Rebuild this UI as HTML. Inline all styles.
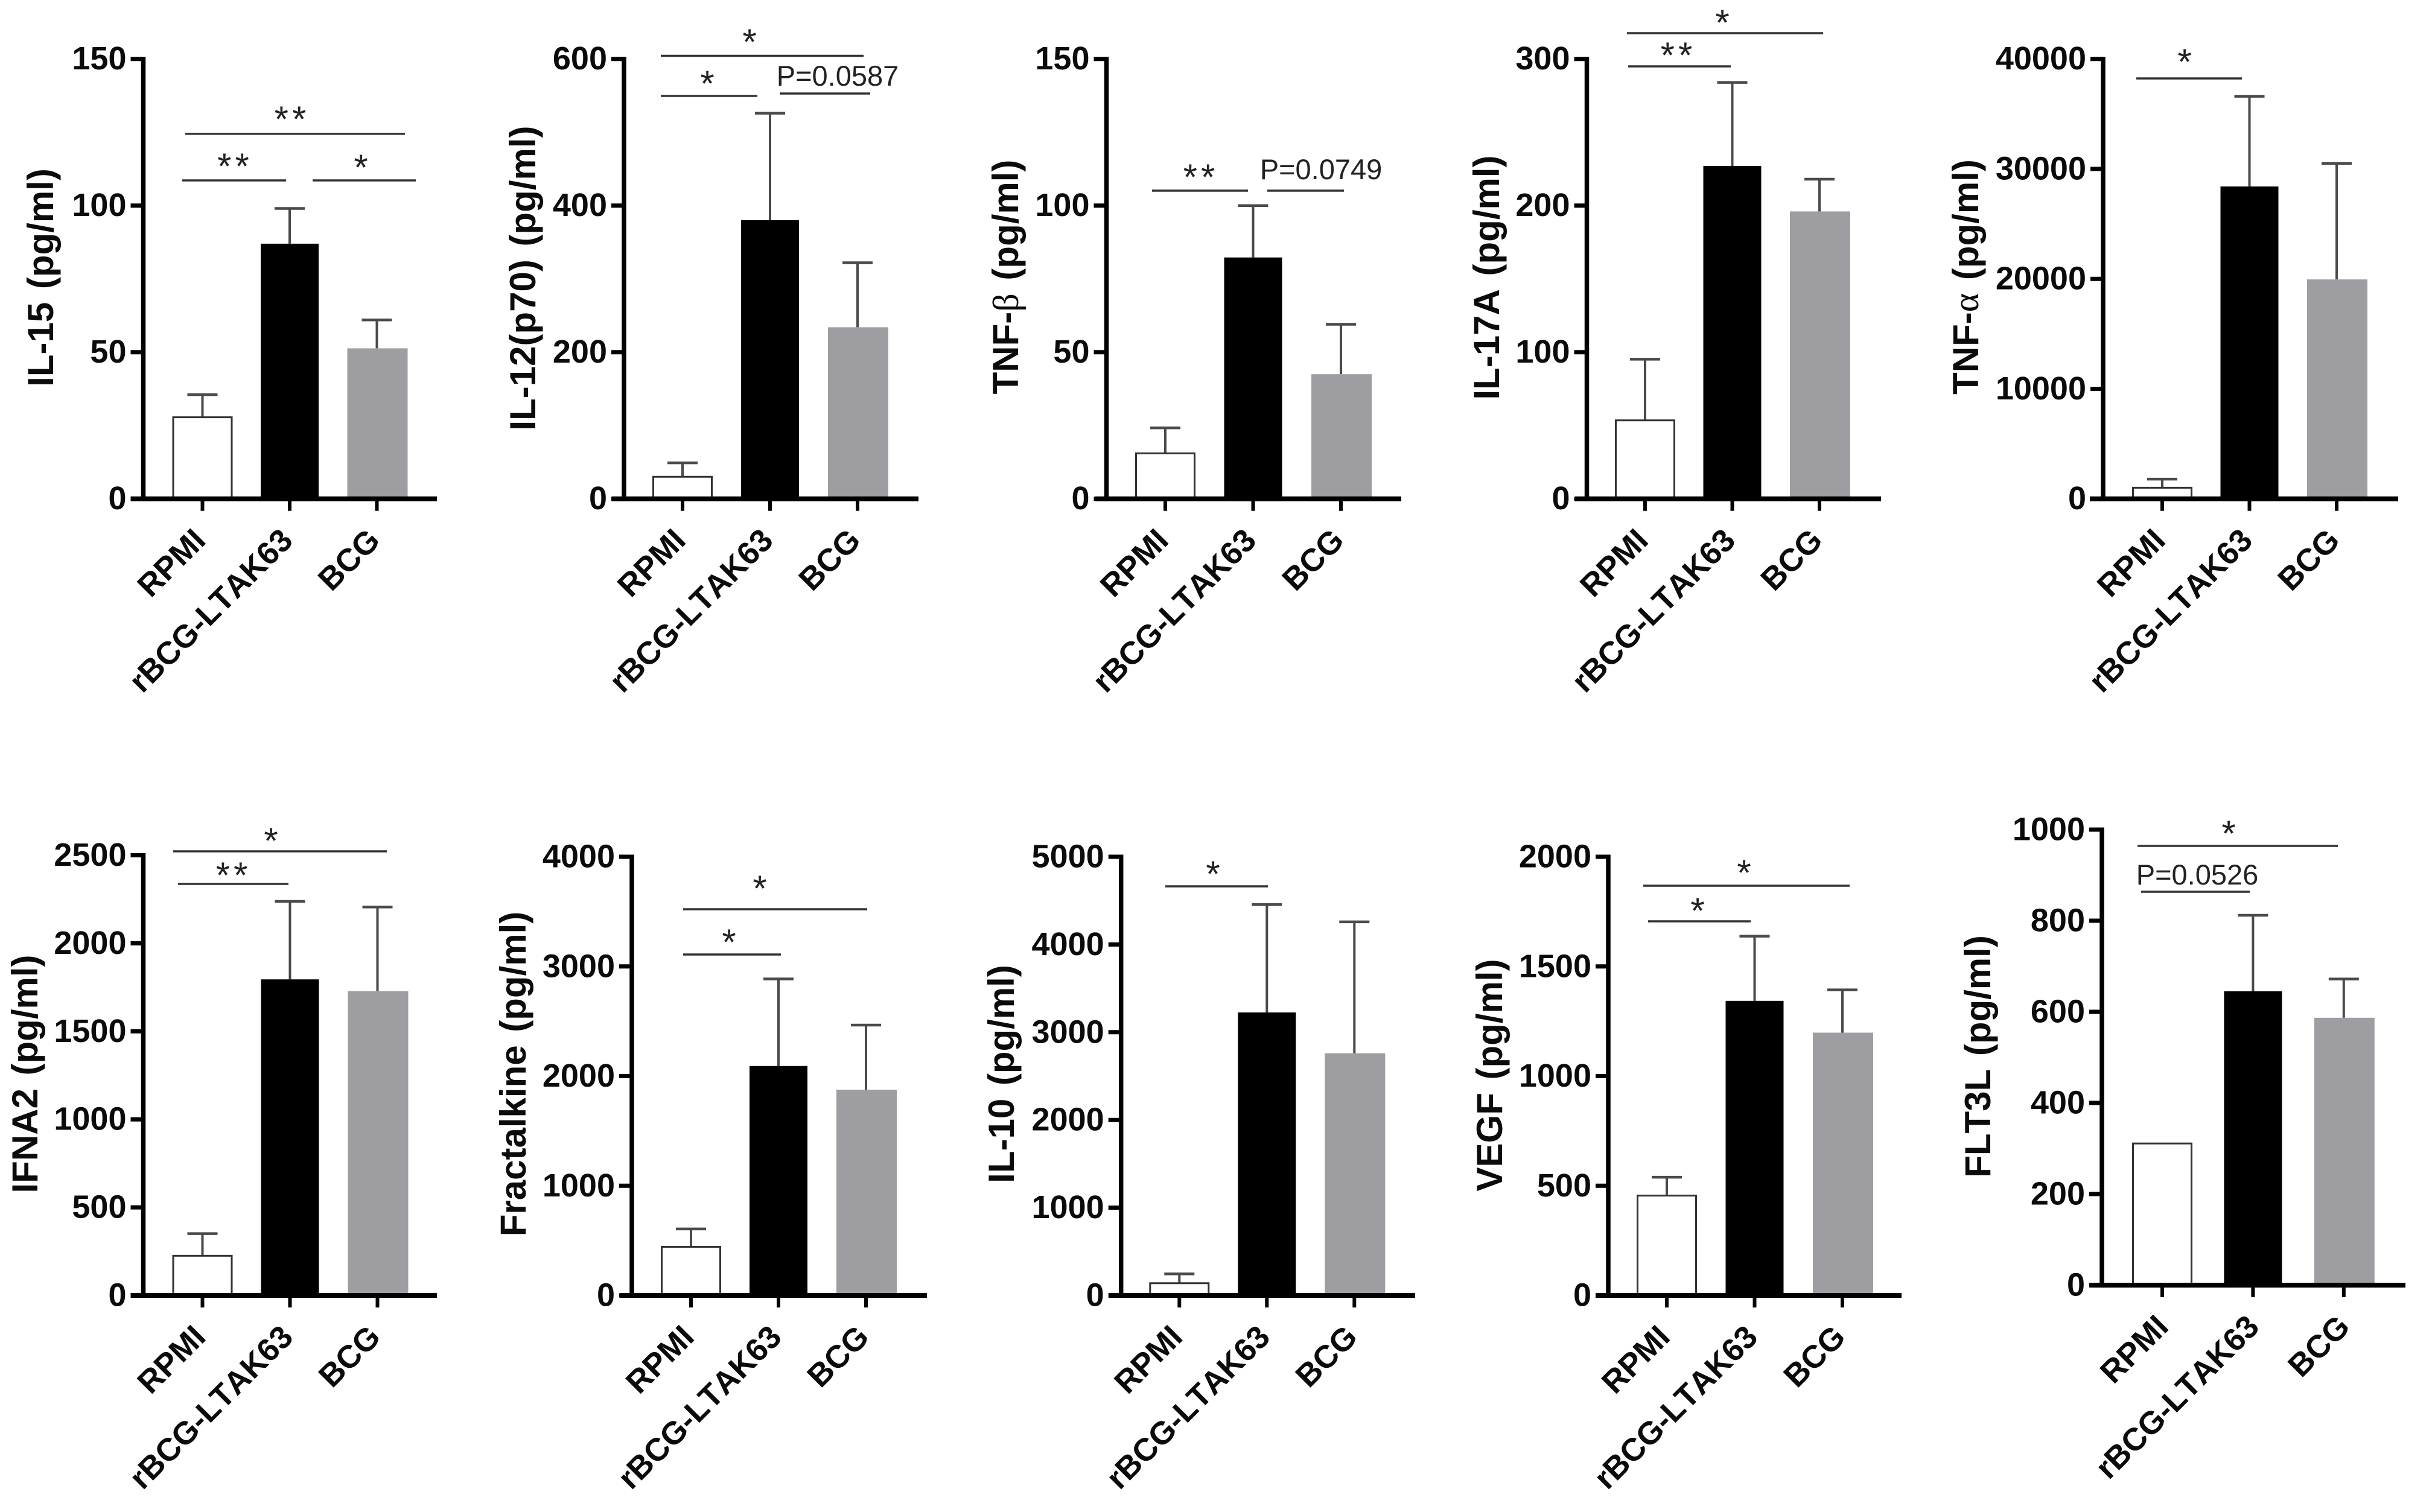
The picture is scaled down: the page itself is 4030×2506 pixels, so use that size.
<!DOCTYPE html>
<html lang="en">
<head>
<meta charset="utf-8">
<title>Cytokine levels by stimulation group</title>
<style>
html,body{margin:0;padding:0;background:#fff;}
svg{display:block;}
text{font-family:"Liberation Sans",Arial,sans-serif;fill:#0b0b0b;}
.tick-label{font-weight:700;font-size:54px;text-anchor:end;}
.cat-label{font-weight:700;font-size:53px;text-anchor:end;font-kerning:none;}
.y-title{font-weight:700;font-size:60px;text-anchor:middle;word-spacing:5px;font-kerning:none;}
.greek{font-family:"Liberation Serif",serif;font-weight:400;}
.star{font-size:60px;text-anchor:middle;fill:#222;letter-spacing:6px;}
.pval{font-size:47px;text-anchor:middle;fill:#222;}
</style>
</head>
<body>
<svg id="chart" xmlns="http://www.w3.org/2000/svg" width="4030" height="2506" viewBox="0 0 4030 2506">
<rect x="0" y="0" width="4030" height="2506" fill="#fff"/>
</svg>
<script>
// ---- Data ----
const categories = ['RPMI', 'rBCG-LTAK63', 'BCG'];

const il15Ticks = [0, 50, 100, 150];
const il15Means = [27.8, 87, 51.3];
const il15Upper = [35.5, 99, 61];

const il12Ticks = [0, 200, 400, 600];
const il12Means = [30, 380, 234];
const il12Upper = [49, 526, 322];

const tnfBetaTicks = [0, 50, 100, 150];
const tnfBetaMeans = [15.5, 82.3, 42.5];
const tnfBetaUpper = [24.2, 100, 59.5];

const il17aTicks = [0, 100, 200, 300];
const il17aMeans = [53.5, 227, 196];
const il17aUpper = [95.2, 284, 218];

const tnfAlphaTicks = [0, 10000, 20000, 30000, 40000];
const tnfAlphaMeans = [1005, 28400, 19950];
const tnfAlphaUpper = [1790, 36600, 30500];

const ifna2Ticks = [0, 500, 1000, 1500, 2000, 2500];
const ifna2Means = [225, 1795, 1728];
const ifna2Upper = [351, 2238, 2206];

const fractalkineTicks = [0, 1000, 2000, 3000, 4000];
const fractalkineMeans = [443, 2092, 1876];
const fractalkineUpper = [606, 2886, 2465];

const il10Ticks = [0, 1000, 2000, 3000, 4000, 5000];
const il10Means = [139, 3225, 2760];
const il10Upper = [245, 4455, 4258];

const vegfTicks = [0, 500, 1000, 1500, 2000];
const vegfMeans = [455, 1343, 1198];
const vegfUpper = [539, 1638, 1393];

const flt3lTicks = [0, 200, 400, 600, 800, 1000];
const flt3lMeans = [311, 645, 587];
const flt3lUpper = [311, 812, 672];

// ---- Drawing ----
const NS = 'http://www.w3.org/2000/svg';
const root = document.getElementById('chart');
const barWidths = [97, 96, 100];
const barFills = ['#ffffff', '#000000', '#9e9ea2'];

function make(tag, attrs, parent, text) {
  const node = document.createElementNS(NS, tag);
  for (const key in attrs) node.setAttribute(key, attrs[key]);
  if (text !== undefined) node.textContent = text;
  parent.appendChild(node);
  return node;
}

function drawPanel(slug, titleParts, ticks, means, upper, frame, brackets) {
  const yScale = v => frame.yBottom - (v / ticks[ticks.length - 1]) * (frame.yBottom - frame.yTop);
  const xScale = i => frame.x0 + i * frame.step;

  const g = make('g', {}, root);
  
  

  // bars
  categories.forEach((cat, i) => {
    const w = barWidths[i];
    const isWhite = i === 0;
    const top = yScale(means[i]);
    const hi = yScale(upper[i]);
    if (upper[i] > means[i]) {
      const stem = make('line', {x1: xScale(i), x2: xScale(i), y1: top, y2: hi, stroke: '#4a4a4a', 'stroke-width': 4}, g);
      
      
      const cap = make('line', {x1: xScale(i) - 25, x2: xScale(i) + 25, y1: hi, y2: hi, stroke: '#4a4a4a', 'stroke-width': 4.5}, g);
      
      
    }
    const bar = make('rect', {
      x: xScale(i) - w / 2 + (i === 2 ? 1 : 0), y: top, width: w, height: frame.yBottom - top,
      fill: barFills[i],
      stroke: isWhite ? '#333' : 'none',
      'stroke-width': isWhite ? 3 : 0
    }, g);
    
    
  });

  // axes
  const yAxis = make('line', {x1: frame.axisX, x2: frame.axisX, y1: frame.yTop - 3.5, y2: frame.yBottom + 3, stroke: '#000', 'stroke-width': 7.5}, g);
  
  
  const xAxis = make('line', {x1: frame.axisStart, x2: frame.axisEnd, y1: frame.yBottom, y2: frame.yBottom, stroke: '#000', 'stroke-width': 8}, g);
  
  

  // y ticks
  ticks.forEach(t => {
    const mark = make('line', {x1: frame.axisX - 21, x2: frame.axisX, y1: yScale(t), y2: yScale(t), stroke: '#000', 'stroke-width': 7}, g);
    
    
    const label = make('text', {x: frame.axisX - 28, y: yScale(t) + 17.5, class: 'tick-label'}, g, String(t));
    
    
  });

  // x ticks + category labels
  categories.forEach((cat, i) => {
    const mark = make('line', {x1: xScale(i), x2: xScale(i), y1: frame.yBottom, y2: frame.yBottom + 20, stroke: '#000', 'stroke-width': 6}, g);
    
    
    const ax = xScale(i) + frame.labelDx;
    const ay = frame.yBottom + 72;
    const label = make('text', {x: ax, y: ay, class: 'cat-label', transform: 'rotate(-45 ' + ax + ' ' + ay + ')'}, g, cat);
    
    
  });

  // y-axis title
  const title = make('text', {x: frame.titleX, y: frame.titleY, class: 'y-title', transform: 'rotate(-90 ' + frame.titleX + ' ' + frame.titleY + ')'}, g);
  
  
  titleParts.forEach(part => {
    const span = make('tspan', part.greek ? {class: 'greek'} : {}, title, part.text);
    
    
  });

  // significance brackets: [x1, x2, lineY, label, labelCenterX, labelCenterY] in page pixels
  brackets.forEach((b, n) => {
    const rule = make('line', {x1: b[0], x2: b[1], y1: b[2], y2: b[2], stroke: '#333', 'stroke-width': 3.5}, g);
    
    
    const isStar = b[3].charAt(0) === '*';
    const note = make('text', {x: b[4] + (isStar ? 3 : 0), y: b[5] + (isStar ? 29 : 16), class: isStar ? 'star' : 'pval'}, g, b[3]);
    
    
  });
}

drawPanel('il-15', [{text: 'IL-15 (pg/ml)'}], il15Ticks, il15Means, il15Upper,
  {x0: 335.5, step: 144.5, axisX: 237.5, axisStart: 216.5, axisEnd: 724, yTop: 97.7, yBottom: 826.7, titleX: 88, titleY: 460, labelDx: 8},
  [[307, 671, 221.7, '**', 481, 189], [302, 474, 299, '**', 386.5, 267], [518, 689, 299, '*', 598, 269]]);

drawPanel('il-12', [{text: 'IL-12(p70) (pg/ml)'}], il12Ticks, il12Means, il12Upper,
  {x0: 1131, step: 145, axisX: 1034, axisStart: 1014, axisEnd: 1522, yTop: 97.7, yBottom: 826.7, titleX: 887, titleY: 461, labelDx: 8},
  [[1095, 1431, 92.5, '*', 1242, 61], [1095, 1255, 159, '*', 1172, 130], [1292, 1442, 155, 'P=0.0587', 1388, 126]]);

drawPanel('tnf-beta', [{text: 'TNF-'}, {text: 'β', greek: true}, {text: ' (pg/ml)'}], tnfBetaTicks, tnfBetaMeans, tnfBetaUpper,
  {x0: 1931, step: 145.5, axisX: 1833.5, axisStart: 1815, axisEnd: 2322, yTop: 97.7, yBottom: 826.7, titleX: 1687, titleY: 459, labelDx: 8},
  [[1909, 2068, 316, '**', 1987, 285], [2100, 2227, 316, 'P=0.0749', 2189, 281]]);

drawPanel('il-17a', [{text: 'IL-17A (pg/ml)'}], il17aTicks, il17aMeans, il17aUpper,
  {x0: 2726, step: 144.5, axisX: 2629.5, axisStart: 2610, axisEnd: 3117, yTop: 97.7, yBottom: 826.7, titleX: 2484, titleY: 460, labelDx: 8},
  [[2696, 3021, 55, '*', 2854, 29], [2698, 2868, 110, '**', 2778, 83]]);

drawPanel('tnf-alpha', [{text: 'TNF-'}, {text: 'α', greek: true}, {text: ' (pg/ml)'}], tnfAlphaTicks, tnfAlphaMeans, tnfAlphaUpper,
  {x0: 3583, step: 144.5, axisX: 3485, axisStart: 3463, axisEnd: 3974, yTop: 97.7, yBottom: 826.7, titleX: 3278, titleY: 459, labelDx: 8},
  [[3540, 3715, 130, '*', 3620, 94]]);

drawPanel('ifna2', [{text: 'IFNA2 (pg/ml)'}], ifna2Ticks, ifna2Means, ifna2Upper,
  {x0: 335.5, step: 145, axisX: 237.5, axisStart: 216.5, axisEnd: 724, yTop: 1417.5, yBottom: 2147, titleX: 62, titleY: 1780, labelDx: 8},
  [[287, 641, 1411, '*', 449, 1385], [295, 478, 1465, '**', 384, 1442]]);

drawPanel('fractalkine', [{text: 'Fractalkine (pg/ml)'}], fractalkineTicks, fractalkineMeans, fractalkineUpper,
  {x0: 1145, step: 145, axisX: 1047, axisStart: 1027, axisEnd: 1536, yTop: 1420, yBottom: 2147, titleX: 871, titleY: 1780, labelDx: 8},
  [[1132, 1437, 1507, '*', 1259, 1464], [1132, 1294, 1582, '*', 1208, 1553]]);

drawPanel('il-10', [{text: 'IL-10 (pg/ml)'}], il10Ticks, il10Means, il10Upper,
  {x0: 1954.3, step: 145, axisX: 1857.7, axisStart: 1837.3, axisEnd: 2345, yTop: 1420, yBottom: 2147, titleX: 1680, titleY: 1780, labelDx: 8},
  [[1931, 2101, 1469, '*', 2010, 1440]]);

drawPanel('vegf', [{text: 'VEGF (pg/ml)'}], vegfTicks, vegfMeans, vegfUpper,
  {x0: 2762, step: 145.5, axisX: 2665, axisStart: 2644, axisEnd: 3151, yTop: 1420, yBottom: 2147, titleX: 2489, titleY: 1782, labelDx: 8},
  [[2723, 3065, 1468, '*', 2890, 1438], [2731, 2901, 1527, '*', 2813, 1501]]);

drawPanel('flt3l', [{text: 'FLT3L (pg/ml)'}], flt3lTicks, flt3lMeans, flt3lUpper,
  {x0: 3583, step: 150.4, axisX: 3483, axisStart: 3462.4, axisEnd: 3986, yTop: 1375, yBottom: 2130, titleX: 3298, titleY: 1751, labelDx: 13},
  [[3542, 3874, 1402, '*', 3693, 1373], [3548, 3728, 1478, 'P=0.0526', 3641, 1450]]);
</script>
</body>
</html>
